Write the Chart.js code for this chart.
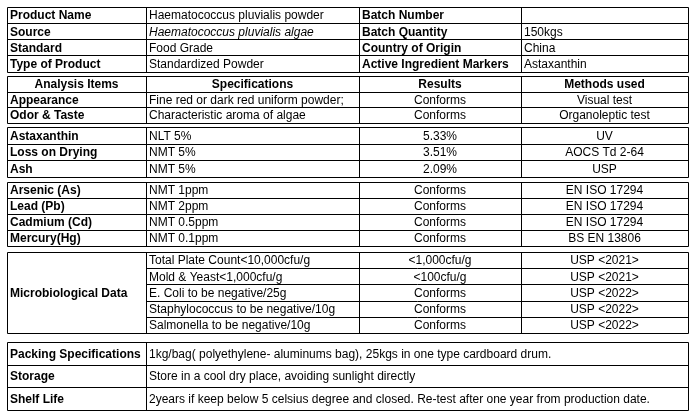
<!DOCTYPE html>
<html>
<head>
<meta charset="utf-8">
<title>Haematococcus pluvialis powder - COA</title>
<script src="https://cdn.jsdelivr.net/npm/chart.js@4/dist/chart.umd.min.js"></script>
<style>
  html, body { margin: 0; padding: 0; background: #fff; }
  #tabla { display: block; }
</style>
</head>
<body>
<canvas id="tabla" width="692" height="416"></canvas>
<script>
// datos del producto
const infoNames = ["Product Name", "Source", "Standard", "Type of Product"];
const infoValues = ["Haematococcus pluvialis powder", "Haematococcus pluvialis algae", "Food Grade", "Standardized Powder"];
const batchNames = ["Batch Number", "Batch Quantity", "Country of Origin", "Active Ingredient Markers"];
const batchValues = ["", "150kgs", "China", "Astaxanthin"];

const analysisHeaders = ["Analysis Items", "Specifications", "Results", "Methods used"];

const physicalItems = ["Appearance", "Odor & Taste"];
const physicalSpecs = ["Fine red or dark red uniform powder;", "Characteristic aroma of algae"];
const physicalResults = ["Conforms", "Conforms"];
const physicalMethods = ["Visual test", "Organoleptic test"];

const assayItems = ["Astaxanthin", "Loss on Drying", "Ash"];
const assaySpecs = ["NLT 5%", "NMT 5%", "NMT 5%"];
const assayResults = ["5.33%", "3.51%", "2.09%"];
const assayMethods = ["UV", "AOCS Td 2-64", "USP"];

const metalItems = ["Arsenic (As)", "Lead (Pb)", "Cadmium (Cd)", "Mercury(Hg)"];
const metalSpecs = ["NMT 1ppm", "NMT 2ppm", "NMT 0.5ppm", "NMT 0.1ppm"];
const metalResults = ["Conforms", "Conforms", "Conforms", "Conforms"];
const metalMethods = ["EN ISO 17294", "EN ISO 17294", "EN ISO 17294", "BS EN 13806"];

const microLabel = "Microbiological Data";
const microSpecs = ["Total Plate Count<10,000cfu/g", "Mold & Yeast<1,000cfu/g", "E. Coli to be negative/25g", "Staphylococcus to be negative/10g", "Salmonella to be negative/10g"];
const microResults = ["<1,000cfu/g", "<100cfu/g", "Conforms", "Conforms", "Conforms"];
const microMethods = ["USP <2021>", "USP <2021>", "USP <2022>", "USP <2022>", "USP <2022>"];

const otherItems = ["Packing Specifications", "Storage", "Shelf Life"];
const otherValues = [
    "1kg/bag( polyethylene- aluminums bag), 25kgs in one type cardboard drum.",
    "Store in a cool dry place, avoiding sunlight directly",
    "2years if keep below 5 celsius degree and closed. Re-test after one year from production date."
];

// posiciones de la tabla (en unidades de las escalas)
const colEdges = [7, 146, 359, 521, 688];
const wideEdges = [7, 146, 688];
const fuente = "'Liberation Sans', Arial, sans-serif";

function armarBloques() {
    const analysisRows = [analysisHeaders.map(t => ({ text: t, bold: true, align: "center" }))];
    const filas = (items, specs, results, methods) => items.map((it, i) => [
        { text: it, bold: true },
        { text: specs[i] },
        { text: results[i], align: "center" },
        { text: methods[i], align: "center" }
    ]);
    physicalItems.forEach((_, i) => analysisRows.push(filas(physicalItems, physicalSpecs, physicalResults, physicalMethods)[i]));

    return [
        {
            top: 7, bottom: 71.5, edges: colEdges,
            rows: infoNames.map((n, i) => [
                { text: n, bold: true },
                { text: infoValues[i], italic: i === 1 },
                { text: batchNames[i], bold: true },
                { text: batchValues[i] }
            ])
        },
        { top: 76, bottom: 123, edges: colEdges, rows: analysisRows },
        { top: 127, bottom: 177, edges: colEdges, rows: filas(assayItems, assaySpecs, assayResults, assayMethods) },
        { top: 182, bottom: 246, edges: colEdges, rows: filas(metalItems, metalSpecs, metalResults, metalMethods) },
        {
            top: 252, bottom: 333, edges: colEdges, merged: { text: microLabel, bold: true },
            rows: microSpecs.map((s, i) => [
                null,
                { text: s },
                { text: microResults[i], align: "center" },
                { text: microMethods[i], align: "center" }
            ])
        },
        {
            top: 342, bottom: 410, edges: wideEdges,
            rows: otherItems.map((n, i) => [{ text: n, bold: true }, { text: otherValues[i] }])
        }
    ];
}

const bloques = armarBloques();

const tablaPlugin = {
    id: "tabla",
    afterDraw(chart) {
        const ctx = chart.ctx;
        const sx = v => Math.round(chart.scales.x.getPixelForValue(v)) + 0.5;
        const sy = v => Math.round(chart.scales.y.getPixelForValue(v)) + 0.5;
        const cy = v => chart.scales.y.getPixelForValue(v);
        const cx = v => chart.scales.x.getPixelForValue(v);

        ctx.save();
        ctx.strokeStyle = "#000";
        ctx.lineWidth = 1;
        ctx.fillStyle = "#000";
        ctx.textBaseline = "middle";

        bloques.forEach(b => {
            const n = b.rows.length;
            const h = (b.bottom - b.top) / n;
            const left = b.edges[0];
            const right = b.edges[b.edges.length - 1];

            ctx.beginPath();
            // borde
            ctx.rect(sx(left), sy(b.top), sx(right) - sx(left), sy(b.bottom) - sy(b.top));
            // columnas
            b.edges.slice(1, -1).forEach(e => {
                ctx.moveTo(sx(e), sy(b.top));
                ctx.lineTo(sx(e), sy(b.bottom));
            });
            // filas
            for (let r = 1; r < n; r++) {
                const x0 = b.merged ? b.edges[1] : left;
                ctx.moveTo(sx(x0), sy(b.top + r * h));
                ctx.lineTo(sx(right), sy(b.top + r * h));
            }
            ctx.stroke();

            const escribir = (cell, c0, c1, yMid) => {
                if (!cell || !cell.text) return;
                ctx.font = (cell.italic ? "italic " : "") + (cell.bold ? "bold " : "") + "12px " + fuente;
                if (cell.align === "center") {
                    ctx.textAlign = "center";
                    ctx.fillText(cell.text, (cx(c0) + cx(c1)) / 2, yMid);
                } else {
                    ctx.textAlign = "left";
                    ctx.fillText(cell.text, cx(c0) + 3, yMid);
                }
            };

            b.rows.forEach((row, r) => {
                const yMid = cy(b.top + (r + 0.5) * h) + 1;
                row.forEach((cell, c) => escribir(cell, b.edges[c], b.edges[c + 1], yMid));
            });
            if (b.merged) {
                escribir(b.merged, b.edges[0], b.edges[1], cy((b.top + b.bottom) / 2) + 1);
            }
        });
        ctx.restore();
    }
};

new Chart(document.getElementById("tabla"), {
    type: "scatter",
    data: { datasets: [] },
    options: {
        responsive: false,
        animation: false,
        layout: { padding: 0 },
        plugins: { legend: { display: false }, tooltip: { enabled: false } },
        scales: {
            x: { type: "linear", min: 0, max: 692, display: false },
            y: { type: "linear", min: 0, max: 416, reverse: true, display: false }
        }
    },
    plugins: [tablaPlugin]
});
</script>
</body>
</html>
